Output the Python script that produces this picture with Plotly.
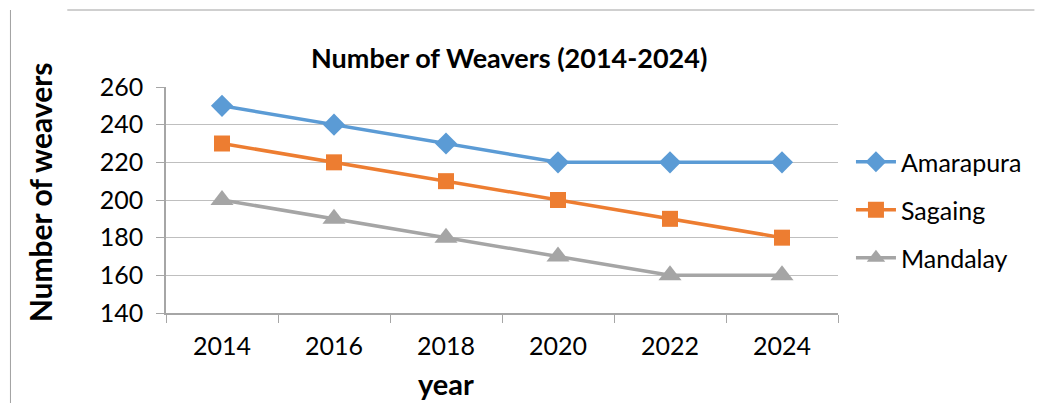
import plotly.graph_objects as go

years = ["2014", "2016", "2018", "2020", "2022", "2024"]
amarapura = [250, 240, 230, 220, 220, 220]
sagaing = [230, 220, 210, 200, 190, 180]
mandalay = [200, 190, 180, 170, 160, 160]
y_ticks = [140, 160, 180, 200, 220, 240, 260]

FONT = "Lato"
W, H = 1039, 403
L, R, T, B = 166, 840, 87, 313

def px(x):
    return (x - L) / (R - L)

def py(y):
    return (B - y) / (B - T)

fig = go.Figure()
series = [
    ("Amarapura", amarapura, "#5B9BD5", "diamond", 17, "legend"),
    ("Sagaing", sagaing, "#ED7D31", "square", 16, "legend2"),
    ("Mandalay", mandalay, "#A5A5A5", "triangle-up", 20, "legend3"),
]
for name, vals, col, sym, sz, lg in series:
    fig.add_trace(go.Scatter(
        x=years, y=vals, name=name, mode="lines+markers",
        line=dict(color=col, width=3.5),
        marker=dict(symbol=sym, size=sz, color=col),
        legend=lg, showlegend=True,
    ))

legend_common = dict(font=dict(family=FONT, size=25, color="#000"),
                     bgcolor="rgba(0,0,0,0)", xanchor="left", yanchor="middle",
                     itemwidth=40)
fig.update_layout(
    width=W, height=H, showlegend=True,
    margin=dict(l=L, r=W - R, t=T, b=H - B),
    paper_bgcolor="white", plot_bgcolor="white",
    font=dict(family=FONT, color="#000"),
    legend=dict(x=px(853), y=py(162), **legend_common),
    legend2=dict(x=px(853), y=py(210), **legend_common),
    legend3=dict(x=px(853), y=py(258), **legend_common),
    xaxis=dict(type="category", tickson="boundaries", ticks="outside", ticklen=8,
               tickcolor="#A6A6A6", showline=True, linecolor="#A6A6A6", linewidth=1.5,
               showgrid=False, tickfont=dict(family=FONT, size=25, color="#000"),
               ticklabelstandoff=10, range=[-0.5, 5.5], mirror=False),
    yaxis=dict(range=[140, 260], tickvals=y_ticks, ticks="outside", ticklen=8,
               tickcolor="#A6A6A6", showline=True, linecolor="#A6A6A6", linewidth=1.5,
               showgrid=True, gridcolor="#BFBFBF", gridwidth=1.2, zeroline=False,
               ticklabelstandoff=8,
               tickfont=dict(family=FONT, size=25, color="#000")),
    annotations=[
        dict(text="<b>Number of Weavers (2014-2024)</b>", x=px(510), y=py(58),
             xref="paper", yref="paper", showarrow=False,
             xanchor="center", yanchor="middle",
             font=dict(family=FONT, size=27, color="#000")),
        dict(text="<b>Number of weavers</b>", x=px(40), y=py(192), textangle=-90,
             xref="paper", yref="paper", showarrow=False,
             xanchor="center", yanchor="middle",
             font=dict(family=FONT, size=30, color="#000")),
        dict(text="<b>year</b>", x=px(447), y=py(383),
             xref="paper", yref="paper", showarrow=False,
             xanchor="center", yanchor="middle",
             font=dict(family=FONT, size=29, color="#000")),
    ],
    shapes=[
        dict(type="line", xref="paper", yref="paper", x0=px(67), x1=px(1037),
             y0=py(10), y1=py(10), line=dict(color="#A0A0A0", width=1)),
        dict(type="line", xref="paper", yref="paper", x0=px(10), x1=px(10),
             y0=py(10), y1=py(403), line=dict(color="#A0A0A0", width=1)),
    ],
)
fig.write_html("out.html")
